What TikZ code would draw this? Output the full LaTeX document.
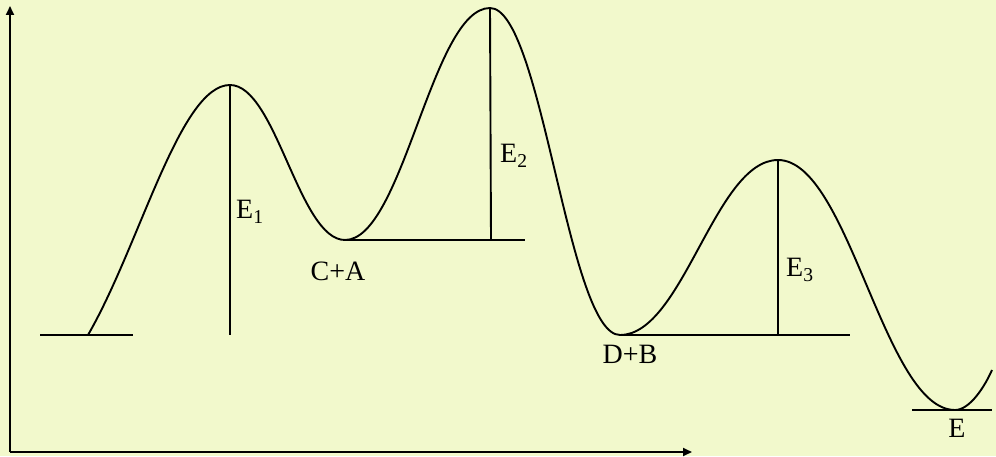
\documentclass[tikz,border=0pt]{standalone}
\usepackage{fontspec}
\setmainfont{Liberation Serif}
\usetikzlibrary{arrows.meta}
\definecolor{bg}{RGB}{242,249,204}
\begin{document}
\begin{tikzpicture}[x=1pt,y=1pt,
  ln/.style={line width=1.9pt,black},
  axis/.style={line width=1.9pt,-{Triangle[length=9pt,width=8pt]}},
  lbl/.style={font=\fontsize{28}{30}\selectfont,inner sep=0pt}]
\fill[bg] (0,0) rectangle (996,456);
\useasboundingbox (0,0) rectangle (996,456);
% axes
\coordinate (O) at (10,4);
\coordinate (Ytop) at (10,450);
\coordinate (Xend) at (692,4);
\draw[axis] (O) -- (Ytop);
\draw[axis] (O) -- (Xend);
% key points
\coordinate (S) at (88,121);
\coordinate (P1) at (230,371);
\coordinate (M1) at (345,216);
\coordinate (P2) at (490,448);
\coordinate (M2) at (620,121);
\coordinate (P3) at (778,296);
\coordinate (M3) at (955,46);
\coordinate (End) at (992,86);
\draw[ln] (S) .. controls (140,211) and (180,371) .. (P1)
  .. controls (276,371) and (299,216) .. (M1)
  .. controls (403,216) and (432,448) .. (P2)
  .. controls (542,448) and (568,121) .. (M2)
  .. controls (683,121) and (715,296) .. (P3)
  .. controls (849,296) and (884,46) .. (M3)
  .. controls (970,46) and (985,70) .. (End);
% levels
\coordinate (L0a) at (40,121); \coordinate (L0b) at (133,121);
\draw[ln] (L0a) -- (L0b);
\coordinate (L1b) at (525,216);
\draw[ln] (M1) -- (L1b);
\coordinate (L2b) at (850,121);
\draw[ln] (M2) -- (L2b);
\coordinate (L3a) at (912,46); \coordinate (L3b) at (992,46);
\draw[ln] (L3a) -- (L3b);
% verticals
\coordinate (V1) at (230,121);
\draw[ln] (P1) -- (V1);
\coordinate (V2) at (491,216);
\draw[ln] (P2) -- (V2);
\coordinate (V3) at (778,121);
\draw[ln] (P3) -- (V3);
% labels
\node[lbl,anchor=west] (e1) at (236,244) {E\textsubscript{1}};
\node[lbl,anchor=west] (e2) at (500,300) {E\textsubscript{2}};
\node[lbl,anchor=west] (e3) at (786,186) {E\textsubscript{3}};
\node[lbl] (ca) at (338,185) {C+A};
\node[lbl] (db) at (630,102) {D+B};
\node[lbl] (ee) at (957,28) {E};
\end{tikzpicture}
\end{document}
